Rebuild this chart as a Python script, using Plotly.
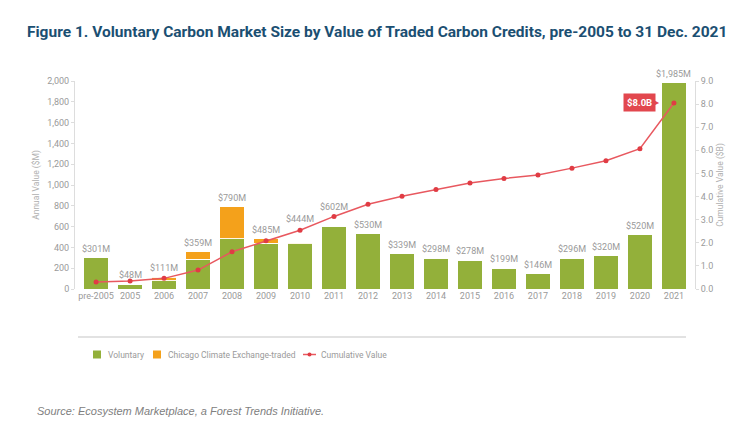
import plotly.graph_objects as go

categories = ["pre-2005", "2005", "2006", "2007", "2008", "2009", "2010", "2011", "2012",
              "2013", "2014", "2015", "2016", "2017", "2018", "2019", "2020", "2021"]
voluntary = [301, 48, 77, 285, 484, 439, 434, 602, 530, 339, 298, 278, 199, 146, 296, 320, 520, 1985]
ccx = [0, 0, 34, 74, 306, 46, 10, 0, 0, 0, 0, 0, 0, 0, 0, 0, 0, 0]
bar_labels = ["$301M", "$48M", "$111M", "$359M", "$790M", "$485M", "$444M", "$602M", "$530M",
              "$339M", "$298M", "$278M", "$199M", "$146M", "$296M", "$320M", "$520M", "$1,985M"]
cumulative = [0.30, 0.35, 0.46, 0.82, 1.61, 2.09, 2.54, 3.14, 3.67, 4.01, 4.31, 4.59, 4.78,
              4.93, 5.23, 5.55, 6.07, 8.05]
series_names = ["Voluntary", "Chicago Climate Exchange-traded", "Cumulative Value"]
callout_text = "$8.0B"

# extra lift (px) for labels that sit above the cumulative line
LABEL_LIFT = {"2010": 15, "2011": 10}

GREEN = "#93b03a"
ORANGE = "#f4a11b"
RED = "#e8585f"
DOT = "#e03c44"
GRAY = "#9a9a9a"
FONT = "Roboto, Liberation Sans, sans-serif"

OFF = 8  # page body margin offset
W, H = 750 - OFF, 427 - OFF
# plot area in screenshot pixels
SL, SR, ST, SB = 75, 695, 81, 289
L, R, T, B = SL - OFF, SR - OFF, ST - OFF, SB - OFF
PW, PH = R - L, B - T


def px(xs):
    return (xs - OFF - L) / PW


def py(ys):
    return (B - (ys - OFF)) / PH


fig = go.Figure()
fig.add_trace(go.Bar(x=categories, y=voluntary, name=series_names[0], marker_color=GREEN,
                     marker_line=dict(color="rgba(255,255,255,0.9)", width=1)))
fig.add_trace(go.Bar(x=categories, y=ccx, name=series_names[1], marker_color=ORANGE,
                     marker_line=dict(color="rgba(255,255,255,0.9)", width=1)))
fig.add_trace(go.Scatter(x=categories, y=cumulative, name=series_names[2], yaxis="y2",
                         mode="lines+markers", line=dict(color=RED, width=1.5),
                         marker=dict(color=DOT, size=5)))

annotations = []
for i, (c, v, k, t) in enumerate(zip(categories, voluntary, ccx, bar_labels)):
    annotations.append(dict(x=i, y=v + k, xref="x", yref="y", text=t, showarrow=False,
                            yanchor="bottom", yshift=2 + LABEL_LIFT.get(c, 0),
                            font=dict(family=FONT, size=9, color=GRAY)))

last = len(categories) - 1
annotations.append(dict(x=last, y=cumulative[-1], xref="x", yref="y2",
                        text="<b>" + callout_text + "</b>", showarrow=False, xanchor="right",
                        xshift=-18, bgcolor="#e2474e", borderpad=3,
                        font=dict(family=FONT, size=9.5, color="white")))
annotations.append(dict(x=last, y=cumulative[-1], xref="x", yref="y2",
                        text="\u25B6", showarrow=False, xanchor="right", xshift=-12,
                        font=dict(family="DejaVu Sans", size=8, color="#e2474e")))

annotations.append(dict(x=px(35), y=py(411), xref="paper", yref="paper", xanchor="left", yanchor="middle",
                        text="<i>Source: Ecosystem Marketplace, a Forest Trends Initiative.</i>",
                        showarrow=False,
                        font=dict(family="Liberation Sans, Arial, sans-serif", size=11, color="#808080")))
annotations.append(dict(x=px(377), y=py(32), xref="paper", yref="paper", xanchor="center", yanchor="middle",
                        text="<b>Figure 1. Voluntary Carbon Market Size by Value of Traded Carbon Credits, pre-2005 to 31 Dec. 2021</b>",
                        showarrow=False, font=dict(family=FONT, size=15.5, color="#1b4f72")))

# manual legend
LEG_Y = 354.5
shapes = [dict(type="line", xref="paper", yref="paper",
               x0=px(78), x1=px(686), y0=py(337), y1=py(337),
               line=dict(color="#e2e2e2", width=2))]
leg_items = [(series_names[0], "square", GREEN, 93, 106),
             (series_names[1], "square", ORANGE, 153, 166),
             (series_names[2], "line", RED, 303, 319)]
for name, kind, col, x0, tx in leg_items:
    if kind == "square":
        shapes.append(dict(type="rect", xref="paper", yref="paper",
                           x0=px(x0), x1=px(x0 + 8), y0=py(LEG_Y - 4), y1=py(LEG_Y + 4),
                           fillcolor=col, line=dict(width=0)))
    else:
        shapes.append(dict(type="line", xref="paper", yref="paper",
                           x0=px(x0), x1=px(x0 + 13), y0=py(LEG_Y), y1=py(LEG_Y),
                           line=dict(color=col, width=1.5)))
        shapes.append(dict(type="circle", xref="paper", yref="paper",
                           x0=px(x0 + 4.5), x1=px(x0 + 8.5), y0=py(LEG_Y - 2), y1=py(LEG_Y + 2),
                           fillcolor=DOT, line=dict(width=0)))
    annotations.append(dict(x=px(tx), y=py(LEG_Y), xref="paper", yref="paper", xanchor="left",
                            yanchor="middle", text=name, showarrow=False,
                            font=dict(family=FONT, size=8.5, color=GRAY)))

fig.update_layout(
    width=W, height=H,
    margin=dict(l=L, r=W - R, t=T, b=H - B, autoexpand=False),
    paper_bgcolor="white", plot_bgcolor="white",
    barmode="stack", bargap=0.28,
    showlegend=False,
    xaxis=dict(type="category", range=[-0.62, 17.62], showline=False, ticks="", tickangle=0,
               automargin=False,
               tickfont=dict(family=FONT, size=9, color=GRAY), showgrid=False),
    yaxis=dict(range=[0, 2000], dtick=200, tickformat=",", showgrid=False, zeroline=False,
               automargin=False,
               showline=True, linecolor="#dddddd", linewidth=1, ticks="outside", ticklen=3,
               tickcolor="#dddddd", tickfont=dict(family=FONT, size=9, color=GRAY),
               title=dict(text="Annual Value ($M)", font=dict(family=FONT, size=8.5, color="#b0b0b0"),
                          standoff=6)),
    yaxis2=dict(range=[0, 9], dtick=1, tickformat=".1f", overlaying="y", side="right",
                automargin=False,
                showgrid=False, zeroline=False, showline=True, linecolor="#dddddd", linewidth=1,
                ticks="outside", ticklen=3, tickcolor="#dddddd",
                tickfont=dict(family=FONT, size=9, color=GRAY),
                title=dict(text="Cumulative Value ($B)", font=dict(family=FONT, size=8.5, color="#b0b0b0"),
                           standoff=4)),
    annotations=annotations,
    shapes=shapes,
)

fig.write_html("out.html")
